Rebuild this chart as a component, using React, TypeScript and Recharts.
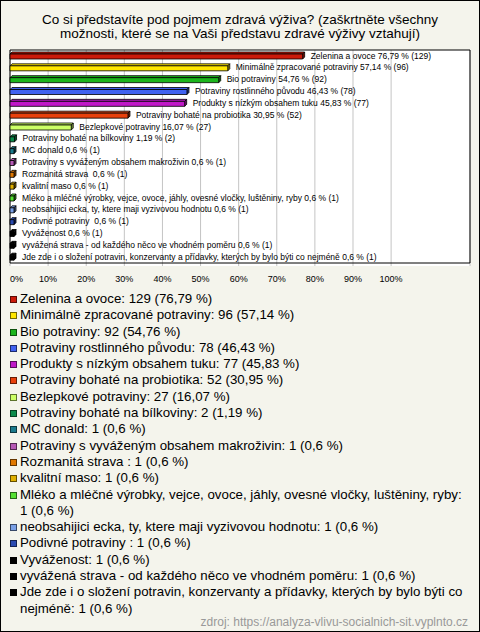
import { BarChart, Bar, XAxis, YAxis, CartesianGrid, ReferenceArea, Cell, LabelList } from 'recharts';

const names = [
  'Zelenina a ovoce',
  'Minimálně zpracované potraviny',
  'Bio potraviny',
  'Potraviny rostlinného původu',
  'Produkty s nízkým obsahem tuku',
  'Potraviny bohaté na probiotika',
  'Bezlepkové potraviny',
  'Potraviny bohaté na bílkoviny',
  'MC donald',
  'Potraviny s vyváženým obsahem makroživin',
  'Rozmanitá strava ',
  'kvalitní maso',
  'Mléko a mléčné výrobky, vejce, ovoce, jáhly, ovesné vločky, luštěniny, ryby',
  'neobsahijici ecka, ty, ktere maji vyzivovou hodnotu',
  'Podivné potraviny ',
  'Vyváženost',
  'vyvážená strava - od každého něco ve vhodném poměru',
  'Jde zde i o složení potravin, konzervanty a přídavky, kterých by bylo býti co nejméně',
];
const counts = [129, 96, 92, 78, 77, 52, 27, 2, 1, 1, 1, 1, 1, 1, 1, 1, 1, 1];
const percents = [76.79, 57.14, 54.76, 46.43, 45.83, 30.95, 16.07, 1.19, 0.6, 0.6, 0.6, 0.6, 0.6, 0.6, 0.6, 0.6, 0.6, 0.6];
const colors = [
  '#cc1a0a', '#ffe600', '#1cb51c', '#4062f0', '#c018c8', '#e8400c', '#ccff66', '#0a8a4a', '#1a7a8c',
  '#b65ab6', '#e07800', '#e0b000', '#55e033', '#7aa0e6', '#2a4ab0', '#000000', '#000000', '#000000',
];
const xTicks = [0, 10, 20, 30, 40, 50, 60, 70, 80, 90, 100];

const fmt = (v: number) => String(v).replace('.', ',');

const data = names.map((name, i) => ({
  name,
  value: percents[i],
  label: `${name} ${fmt(percents[i])} % (${counts[i]})`,
}));

const FONT = '"Liberation Sans", Arial, sans-serif';

function darken(hex: string, k: number) {
  const n = parseInt(hex.slice(1), 16);
  const r = Math.round(((n >> 16) & 255) * k);
  const g = Math.round(((n >> 8) & 255) * k);
  const b = Math.round((n & 255) * k);
  return `rgb(${r},${g},${b})`;
}

// bar drawn as a flat 3d box
function Box3D(props: any) {
  const { x, y, width, height, fill } = props;
  const d = 2;
  const t = y + 1;
  const w = width;
  const h = height;
  return (
    <g stroke="#000" strokeWidth={0.8} strokeLinejoin="round">
      <polygon points={`${x},${t} ${x + d},${t - d} ${x + w + d},${t - d} ${x + w},${t}`} fill={fill} />
      <polygon
        points={`${x + w},${t} ${x + w + d},${t - d} ${x + w + d},${t + h - d} ${x + w},${t + h}`}
        fill={darken(fill, 0.6)}
      />
      <rect x={x} y={t} width={w} height={h} fill={fill} />
    </g>
  );
}

function BarLabel(props: any) {
  const { x, y, width, height, value } = props;
  return (
    <text
      x={x + width + 8}
      y={y + height / 2}
      dominantBaseline="central"
      fontSize={8.5}
      fontFamily={FONT}
      fill="#000"
      style={{ whiteSpace: 'pre' }}
    >
      {value}
    </text>
  );
}

function Tick(props: any) {
  const { x, y, payload } = props;
  return (
    <text
      x={x}
      y={y}
      dy={8}
      textAnchor={payload.value === 0 ? 'start' : 'middle'}
      fontSize={9}
      fontFamily={FONT}
      fill="#000"
    >
      {payload.value}%
    </text>
  );
}

export default function App() {
  return (
    <div
      style={{
        position: 'relative',
        width: 480,
        height: 632,
        background: '#f4f4ec',
        fontFamily: FONT,
        color: '#000',
        overflow: 'hidden',
      }}
    >
      <style>{'body{margin:0}'}</style>
      <div
        style={{
          position: 'absolute',
          top: 13,
          left: 0,
          width: 480,
          textAlign: 'center',
          fontSize: 13.5,
          lineHeight: '14px',
        }}
      >
        Co si představíte pod pojmem zdravá výživa? (zaškrtněte všechny
        <br />
        možnosti, které se na Vaši představu zdravé výživy vztahují)
      </div>

      <div style={{ position: 'absolute', left: 0, top: 0 }}>
        <BarChart
          width={480}
          height={290}
          data={data}
          layout="vertical"
          margin={{ top: 50, right: 10, left: 10, bottom: 0 }}
          barSize={5}
        >
          <CartesianGrid horizontal={false} stroke="#c4c4c4" fill="#fff" />
          <XAxis
            type="number"
            domain={[0, 120.7]}
            ticks={xTicks}
            axisLine={false}
            tickLine={false}
            height={24}
            tick={<Tick />}
            interval={0}
          />
          <YAxis type="category" dataKey="name" hide width={0} padding={{ top: 0, bottom: 3 }} />
          <ReferenceArea x1={0} x2={120.7} fill="none" stroke="#000" strokeWidth={1} />
          <Bar dataKey="value" isAnimationActive={false} shape={<Box3D />} minPointSize={4}>
            {data.map((d, i) => (
              <Cell key={d.name} fill={colors[i]} />
            ))}
            <LabelList dataKey="label" content={<BarLabel />} />
          </Bar>
        </BarChart>
      </div>

      <div
        style={{
          position: 'absolute',
          top: 291,
          left: 10,
          width: 458,
          fontSize: 13.3,
          lineHeight: '16.3px',
        }}
      >
        {names.map((name, i) => (
          <div key={name} style={{ display: 'flex', alignItems: 'flex-start' }}>
            <span
              style={{
                flex: 'none',
                width: 5,
                height: 5,
                marginTop: 5,
                marginRight: 3,
                background: colors[i],
                border: `1px solid ${darken(colors[i], 0.45)}`,
              }}
            />
            <span style={{ whiteSpace: 'pre-wrap' }}>
              {`${name}: ${counts[i]} (${fmt(percents[i])} %)`}
            </span>
          </div>
        ))}
      </div>

      <div
        style={{
          position: 'absolute',
          top: 616,
          right: 12,
          fontSize: 12,
          lineHeight: '12px',
          color: '#999',
        }}
      >
        zdroj: https://analyza-vlivu-socialnich-sit.vyplnto.cz
      </div>

      <div
        style={{
          position: 'absolute',
          inset: 0,
          border: '1px solid #000',
          pointerEvents: 'none',
        }}
      />
    </div>
  );
}
